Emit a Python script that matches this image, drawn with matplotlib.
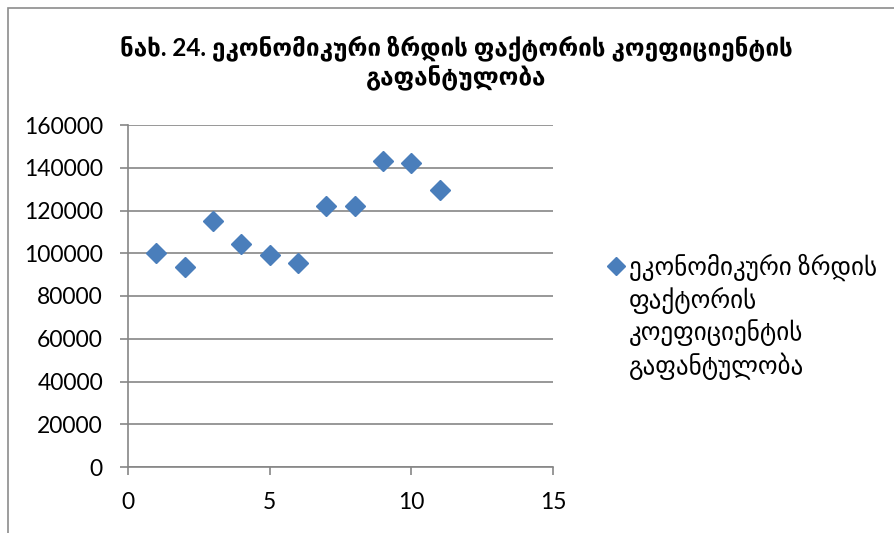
import matplotlib.pyplot as plt
from matplotlib.lines import Line2D
from matplotlib.patches import Rectangle

plt.rcParams['font.family'] = ['Lato', 'DejaVu Sans']

# data
x_vals = [1, 2, 3, 4, 5, 6, 7, 8, 9, 10, 11]
y_vals = [100000, 93400, 115300, 104400, 99400, 95300, 121900, 122200, 143300, 142100, 129800]
x_ticks = [0, 5, 10, 15]
y_ticks = [0, 20000, 40000, 60000, 80000, 100000, 120000, 140000, 160000]

title = 'ნახ. 24. ეკონომიკური ზრდის ფაქტორის კოეფიციენტის\nგაფანტულობა'
series_label = 'ეკონომიკური ზრდის\nფაქტორის\nკოეფიციენტის\nგაფანტულობა'

W, H = 895, 533
fig = plt.figure(figsize=(W / 100, H / 100), dpi=100)

# chart border (cropped on the right and bottom)
fig.add_artist(Rectangle((8 / W, -0.1), 1.2, 1 - 8 / H + 0.1, transform=fig.transFigure,
                         fill=False, edgecolor='#8c8c8c', linewidth=1.2))

ax = fig.add_axes([128 / W, 66 / H, 425 / W, 342 / H])
grey = '#868686'
marker_color = '#4a7ebb'

ax.plot(x_vals, y_vals, linestyle='none', marker='D', markersize=10,
        color=marker_color, markeredgecolor=marker_color, zorder=3)

ax.set_xlim(0, 15)
ax.set_ylim(0, 160000)
ax.set_xticks(x_ticks)
ax.set_yticks(y_ticks)
ax.yaxis.grid(True, color=grey, linewidth=1.2)
ax.set_axisbelow(True)
for s in ['top', 'right']:
    ax.spines[s].set_visible(False)
for s in ['left', 'bottom']:
    ax.spines[s].set_color(grey)
    ax.spines[s].set_linewidth(1.2)
ax.tick_params(axis='both', colors=grey, length=6, width=1.2, labelsize=16.5,
               labelcolor='black', direction='out')
ax.tick_params(axis='x', pad=12)
ax.tick_params(axis='y', pad=12)

fig.text(456 / W, 1 - 63 / H, title, ha='center', va='center', fontsize=17.5,
         fontweight='bold', linespacing=1.2)

# legend key
fig.add_artist(Line2D([616 / W], [1 - 266 / H], transform=fig.transFigure, marker='D',
                      markersize=9, color=marker_color, linestyle='none'))
fig.text(629 / W, 1 - 254 / H, series_label, ha='left', va='top', fontsize=18,
         linespacing=1.27)

fig.savefig('out.png', dpi=100)
